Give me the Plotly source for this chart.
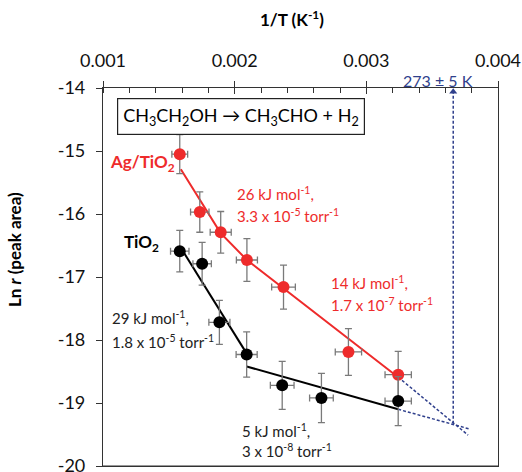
import plotly.graph_objects as go

# ---- data ----
ag_x = [0.001583, 0.001735, 0.001894, 0.002093, 0.002371, 0.002864, 0.003242]
ag_y = [-15.05, -15.97, -16.29, -16.73, -17.16, -18.19, -18.55]
ag_ey = [0.31, 0.32, 0.33, 0.34, 0.35, 0.37, 0.37]
ag_ex = [0.00006, 0.00007, 0.00008, 0.00008, 0.00009, 0.0001, 0.0001]

ti_x = [0.001583, 0.001753, 0.001884, 0.002091, 0.002361, 0.002659, 0.003242]
ti_y = [-16.59, -16.79, -17.72, -18.23, -18.72, -18.92, -18.97]
ti_ey = [0.33, 0.34, 0.35, 0.36, 0.38, 0.39, 0.39]
ti_ex = [0.00007, 0.00007, 0.00008, 0.00008, 0.00009, 0.00009, 0.0001]

# fit lines
ag_fit_x = [0.001591, 0.001892, 0.002093, 0.003242]
ag_fit_y = [-15.29, -16.30, -16.73, -18.59]
ti_fit_x = [0.001616, 0.002093, None, 0.002091, 0.003242]
ti_fit_y = [-16.62, -18.22, None, -18.42, -19.10]

# extrapolations
ag_ext_x = [0.003242, 0.003773]
ag_ext_y = [-18.59, -19.51]
ti_ext_x = [0.003242, 0.003780]
ti_ext_y = [-19.10, -19.41]
t273_x = [0.00366, 0.00366]
t273_y = [-19.33, -14.06]

x_ticks = [0.001, 0.002, 0.003, 0.004]
x_labels = ["0.001", "0.002", "0.003", "0.004"]
y_ticks = [-14, -15, -16, -17, -18, -19, -20]
y_labels = ["-14", "-15", "-16", "-17", "-18", "-19", "-20"]

RED = "#ee2b2b"
NAVY = "#2f3f8c"
GRAY = "#7a7a7a"
AX = "#333333"
FONT = "Lato"

W, H = 522, 472
ML, MR, MT, MB = 103, 24, 88, 6
PW, PH = W - ML - MR, H - MT - MB

fig = go.Figure()

# dashed extrapolations
for xs, ys in [(ag_ext_x, ag_ext_y), (ti_ext_x, ti_ext_y), (t273_x, t273_y)]:
    fig.add_trace(go.Scatter(x=xs, y=ys, mode="lines",
                             line=dict(color=NAVY, width=1.5, dash="3px,2px"),
                             hoverinfo="skip", showlegend=False))
fig.add_trace(go.Scatter(x=[t273_x[1]], y=[t273_y[1]], mode="markers",
                         marker=dict(symbol="triangle-up", size=7, color=NAVY),
                         cliponaxis=False, showlegend=False))

# fits
fig.add_trace(go.Scatter(x=ag_fit_x, y=ag_fit_y, mode="lines",
                         line=dict(color=RED, width=2), showlegend=False))
fig.add_trace(go.Scatter(x=ti_fit_x, y=ti_fit_y, mode="lines",
                         line=dict(color="black", width=2), showlegend=False))

# points
fig.add_trace(go.Scatter(
    x=ag_x, y=ag_y, mode="markers",
    marker=dict(color=RED, size=12),
    error_y=dict(type="data", array=ag_ey, color=GRAY, thickness=1.3, width=3.5),
    error_x=dict(type="data", array=ag_ex, color=GRAY, thickness=1.3, width=3.5),
    showlegend=False))
fig.add_trace(go.Scatter(
    x=ti_x, y=ti_y, mode="markers",
    marker=dict(color="black", size=12),
    error_y=dict(type="data", array=ti_ey, color=GRAY, thickness=1.3, width=3.5),
    error_x=dict(type="data", array=ti_ex, color=GRAY, thickness=1.3, width=3.5),
    showlegend=False))

# helper trace for the inner major-tick overlay axis
fig.add_trace(go.Scatter(x=[0.001], y=[-30], mode="markers", xaxis="x2",
                         marker=dict(opacity=0), showlegend=False, hoverinfo="skip"))

fig.update_layout(
    width=W, height=H,
    margin=dict(l=ML, r=MR, t=MT, b=MB, autoexpand=False),
    paper_bgcolor="white", plot_bgcolor="white",
    font=dict(family=FONT, color="black", size=17),
    xaxis=dict(side="top", range=[0.001, 0.004], tickvals=x_ticks, ticktext=x_labels,
               ticks="outside", ticklen=6, tickwidth=1.2, tickcolor=AX,
               ticklabelstandoff=7, automargin=False,
               showline=True, linecolor=AX, linewidth=1.2, mirror=True,
               showgrid=False, zeroline=False,
               tickfont=dict(size=18, color="#111"),
               minor=dict(ticks="inside", dtick=0.0002, tick0=0.001, ticklen=5,
                          tickcolor=AX, tickwidth=1.2, showgrid=False)),
    xaxis2=dict(overlaying="x", side="top", range=[0.001, 0.004], tickvals=x_ticks,
                ticks="inside", ticklen=6, tickwidth=1.2, tickcolor=AX, automargin=False,
                showticklabels=False, showgrid=False, zeroline=False,
                showline=True, linecolor=AX, linewidth=1.2, mirror=True),
    yaxis=dict(range=[-20, -14], tickvals=y_ticks, ticktext=y_labels,
               ticks="outside", ticklen=6, tickwidth=1.2, tickcolor=AX,
               ticklabelstandoff=7, ticklabeloverflow="allow", automargin=False,
               showline=True, linecolor=AX, linewidth=1.2, mirror=True,
               showgrid=False, zeroline=False, tickfont=dict(size=18, color="#111")),
)

# bottom frame edge of the plot area
fig.add_shape(type="line", xref="paper", yref="paper", x0=0, x1=1, y0=0, y1=0,
              line=dict(color=AX, width=1.2), layer="above")


def txt(x, y, s, color="black", size=15, bold=False, xanchor="left"):
    if bold:
        s = "<b>" + s + "</b>"
    fig.add_annotation(x=x, y=y, xref="x", yref="y", text=s, showarrow=False,
                       xanchor=xanchor, yanchor="middle",
                       font=dict(family=FONT, size=size, color=color))


txt(0.001038, -15.19, "Ag/TiO<sub>2</sub>", RED, 17, True)
txt(0.002000, -15.667, "26 kJ mol<sup>-1</sup>,", RED, 15)
txt(0.002000, -16.016, "3.3 x 10<sup>-5</sup> torr<sup>-1</sup>", RED, 15)
txt(0.001144, -16.46, "TiO<sub>2</sub>", "black", 17, True)
txt(0.002720, -17.095, "14 kJ mol<sup>-1</sup>,", RED, 15)
txt(0.002720, -17.43, "1.7 x 10<sup>-7</sup> torr<sup>-1</sup>", RED, 15)
txt(0.001053, -17.635, "29 kJ mol<sup>-1</sup>,", "#222", 15)
txt(0.001053, -18.03, "1.8 x 10<sup>-5</sup> torr<sup>-1</sup>", "#222", 15)
txt(0.002038, -19.43, "5 kJ mol<sup>-1</sup>,", "#222", 15)
txt(0.002038, -19.746, "3 x 10<sup>-8</sup> torr<sup>-1</sup>", "#222", 15)

fig.add_annotation(x=(438 - ML) / PW, y=(H - MB - 80) / PH, xref="paper", yref="paper",
                   xanchor="center", yanchor="middle", text="273 ± 5 K", showarrow=False,
                   font=dict(family=FONT, size=16, color=NAVY))

fig.add_annotation(x=0.002049, y=-14.46, xref="x", yref="y",
                   text="CH<sub>3</sub>CH<sub>2</sub>OH → CH<sub>3</sub>CHO + H<sub>2</sub>",
                   showarrow=False, bordercolor="#222", borderwidth=1.2, borderpad=5,
                   bgcolor="white", font=dict(family=FONT, size=18, color="black"))

# axis titles, placed by pixel position converted to paper coordinates
fig.add_annotation(x=(292 - ML) / PW, y=(H - MB - 18) / PH, xref="paper", yref="paper",
                   xanchor="center", yanchor="middle",
                   text="<b>1/T (K<sup>-1</sup>)</b>", showarrow=False,
                   font=dict(family=FONT, size=17))
fig.add_annotation(x=(14 - ML) / PW, y=(H - MB - 250) / PH, xref="paper", yref="paper",
                   xanchor="center", yanchor="middle",
                   text="<b>Ln <i>r</i> (peak area)</b>", showarrow=False,
                   textangle=-90, font=dict(family=FONT, size=17))

fig.write_html("out.html")
